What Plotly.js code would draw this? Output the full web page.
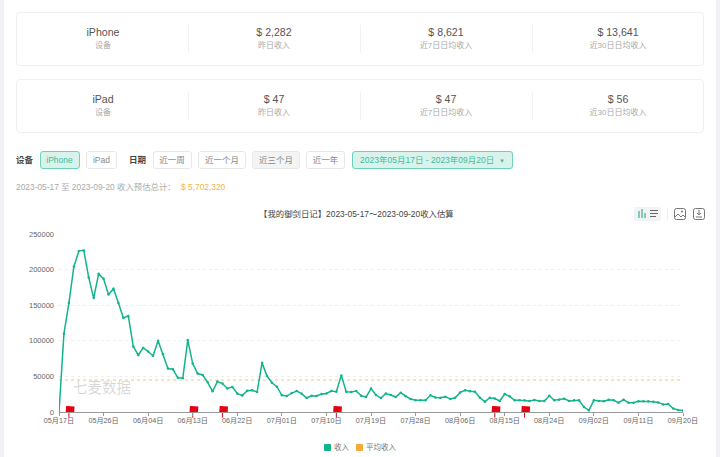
<!DOCTYPE html>
<html><head><meta charset="utf-8">
<script src="https://cdn.plot.ly/plotly-3.0.1.min.js"></script>
<style>
html,body{margin:0;padding:0;width:720px;height:457px;overflow:hidden;background:#fff;font-family:"Liberation Sans","Noto Sans CJK SC",sans-serif;}
.edge{position:absolute;top:0;bottom:0;width:4px;background:#eff1f5;}
.card{position:absolute;left:16px;width:688px;height:54px;border:1px solid #f0f0f0;border-radius:4px;box-sizing:border-box;background:#fff;}
.col{position:absolute;top:0;width:172px;height:100%;text-align:center;}
.col+.col::before{content:"";position:absolute;left:0;top:12px;bottom:12px;border-left:1px solid #f2f2f2;}
.v{position:absolute;left:0;right:0;top:12px;font-size:10.6px;line-height:14px;color:#555;}
.s{position:absolute;left:0;right:0;top:27px;font-size:8px;line-height:12px;color:#aaa;}
.lab{position:absolute;top:153px;font-size:8.5px;line-height:14px;color:#444;font-weight:bold;}
.btn{position:absolute;top:151px;height:18px;box-sizing:border-box;border:1px solid #e8e8e8;border-radius:3px;text-align:center;font-size:8.5px;line-height:16px;color:#888;background:#fff;}
.on{background:#d9f3ec;border-color:#6dd2b8;color:#3dbb9c;}
.grey{background:#f4f4f4;}
.sum{position:absolute;left:16px;top:181px;font-size:8.4px;line-height:13px;color:#aaa;}
.sum b{font-weight:normal;color:#f5b342;margin-left:3px;}
#chart{position:absolute;left:0;top:200px;width:720px;height:257px;}
#tools{position:absolute;left:0;top:0;}
#legend{position:absolute;left:0;top:0;font-size:7.5px;line-height:9px;color:#777;}
#legend span{position:absolute;white-space:nowrap;}
#legend i{position:absolute;width:7px;height:7px;border-radius:1px;top:444px;}
</style></head><body>
<div class="edge" style="left:0"></div><div class="edge" style="right:0"></div>
<div id="cards"></div>
<div class="lab" style="left:16px">设备</div>
<div id="btns"></div>
<div class="lab" style="left:129px">日期</div>
<div class="sum">2023-05-17 至 2023-09-20 收入预估总计： <b>$ 5,702,320</b></div>
<div id="chart"></div>
<div id="legend"></div>
<svg id="tools" width="720" height="230" style="pointer-events:none">
  <rect x="634" y="207" width="27" height="14" rx="2" fill="#f2f3f4"/>
  <g stroke="#2fb594" stroke-width="1.2"><path d="M639 218v-7M642 218v-9M645 218v-5"/></g>
  <g stroke="#666" stroke-width="1"><path d="M650 210.5h8M650 213.5h8M650 216.5h6"/></g>
  <path d="M667.5 208v12" stroke="#ededed"/>
  <rect x="674.5" y="208.5" width="11" height="11" rx="2" fill="none" stroke="#777"/>
  <path d="M675 217l3-3 3 3 2-2 2 2" fill="none" stroke="#777"/><circle cx="682" cy="211.5" r="1" fill="#777"/>
  <rect x="693.5" y="208.5" width="11" height="11" rx="2" fill="none" stroke="#777"/>
  <path d="M699 210v5M697 213l2 2 2-2M696 217h6" fill="none" stroke="#777"/>
</svg>
<script>
var revenue = [0,110000,153000,204000,226000,227000,189000,160000,194000,187000,
165000,173000,153000,132000,135000,92000,80000,90000,85000,79000,
100000,81000,61000,60000,48000,47500,101000,68000,54000,52000,
42000,29000,43000,40000,33000,35000,26000,23000,30000,30400,
28000,69000,50500,41000,35500,23400,22400,26600,29400,25700,
19600,22900,22400,25200,26000,29400,28500,51400,28500,28000,
29400,22900,21000,33000,23800,19600,26000,23800,21000,27000,
22000,18200,16400,16400,16400,23400,20500,20000,21500,18200,
20000,27500,30400,29000,28500,20000,14500,20000,19000,15400,
25200,22000,16400,16400,16400,15400,16800,15400,15400,22900,
16400,17300,18700,15400,16400,16400,7000,2300,16400,15400,
15000,17300,16400,13000,17300,13000,13000,15000,15000,15000,
14500,13500,10700,11200,5000,2800,2282];
var averageRevenue = 44900;
var flagDates = ["2023-05-19","2023-06-13","2023-06-19","2023-07-12","2023-08-13","2023-08-19"];
var tickDates = ["2023-05-17","2023-05-26","2023-06-04","2023-06-13","2023-06-22","2023-07-01","2023-07-10","2023-07-19","2023-07-28","2023-08-06","2023-08-15","2023-08-24","2023-09-02","2023-09-11","2023-09-20"];
var tickLabels = ["05月17日","05月26日","06月04日","06月13日","06月22日","07月01日","07月10日","07月19日","07月28日","08月06日","08月15日","08月24日","09月02日","09月11日","09月20日"];
var yTicks = [0,50000,100000,150000,200000,250000];
var devices = ["iPhone","iPad"];
var cardValues = [["$ 2,282","$ 8,621","$ 13,641"],["$ 47","$ 47","$ 56"]];
var cardLabels = ["昨日收入","近7日日均收入","近30日日均收入"];
var buttons = [["iPhone",39.5,40,"on"],["iPad",86,31,""],["近一周",152.5,39,""],["近一个月",198,48,""],["近三个月",252,48,"grey"],["近一年",306,39,""],["2023年05月17日 - 2023年09月20日 &nbsp;<span style='font-size:6px'>▼</span>",352,161,"on"]];
var legendNames = ["收入","平均收入"];

var html="";
devices.forEach(function(d,i){
  html+='<div class="card" style="top:'+(12+i*66.5)+'px">';
  html+='<div class="col" style="left:0"><div class="v">'+d+'</div><div class="s">设备</div></div>';
  cardValues[i].forEach(function(v,j){
    html+='<div class="col" style="left:'+(172*(j+1)-1)+'px"><div class="v">'+v+'</div><div class="s">'+cardLabels[j]+'</div></div>';
  });
  html+='</div>';
});
document.getElementById("cards").innerHTML=html;
document.getElementById("btns").innerHTML=buttons.map(function(b){
  return '<div class="btn '+b[3]+'" style="left:'+b[1]+'px;width:'+b[2]+'px">'+b[0]+'</div>';}).join("");

var dates = revenue.map(function(_,i){
  return new Date(Date.UTC(2023,4,17+i)).toISOString().slice(0,10);
});
var GREEN="#12b48b", ORANGE="#f5ab35", FLAG="#e60012", FONT='"Liberation Sans","Noto Sans CJK SC",sans-serif';
document.getElementById("legend").innerHTML=
 '<i style="left:324px;background:'+GREEN+'"></i><span style="left:334px;top:443px">'+legendNames[0]+'</span>'+
 '<i style="left:356px;background:'+ORANGE+'"></i><span style="left:366px;top:443px">'+legendNames[1]+'</span>';
var traces=[
 {x:[dates[0],dates[dates.length-1]],y:[averageRevenue,averageRevenue],mode:"lines",line:{color:"#f8c878",width:1,dash:"dot"},showlegend:false,hoverinfo:"skip"},
 {x:dates,y:revenue,mode:"lines+markers",line:{color:GREEN,width:1.5},marker:{color:GREEN,size:2.5},showlegend:false},
 {x:flagDates,y:flagDates.map(function(){return 0;}),mode:"markers",marker:{symbol:"line-ns",size:8,line:{color:FLAG,width:1}},showlegend:false,hoverinfo:"skip",cliponaxis:false},
 {x:flagDates.map(function(d){return d+" 06:00";}),y:flagDates.map(function(){return 3800;}),mode:"markers",marker:{symbol:"line-ew",size:6,angle:4,line:{color:FLAG,width:6}},showlegend:false,hoverinfo:"skip",cliponaxis:false}
];
var layout={
 width:720,height:257,margin:{l:59,r:37,t:34,b:45.3,autoexpand:false},paper_bgcolor:"rgba(0,0,0,0)",plot_bgcolor:"rgba(0,0,0,0)",
 font:{family:FONT,size:7.5,color:"#666"},showlegend:false,
 title:{text:"【我的御剑日记】2023-05-17～2023-09-20收入估算",font:{size:8.4,color:"#444"},x:0.495,xanchor:"center",y:0.947,yanchor:"middle"},
 xaxis:{type:"date",range:[dates[0],dates[dates.length-1]],tickvals:tickDates,ticktext:tickLabels,ticks:"outside",ticklen:3,tickcolor:"#999",showgrid:false,showline:true,linecolor:"#999",zeroline:false,ticklabelstandoff:-2,tickfont:{size:7.2,color:"#666"}},
 yaxis:{range:[0,250000],tickvals:yTicks,ticktext:yTicks.map(String),ticks:"",gridcolor:"#eeeeee",griddash:"dot",gridwidth:1,showline:false,zeroline:false,ticklabelstandoff:4,tickfont:{size:7.5,color:"#666"}},
 annotations:[{text:"七麦数据",xref:"paper",yref:"paper",x:0.02,y:0.133,xanchor:"left",yanchor:"middle",showarrow:false,font:{size:14.5,color:"rgba(0,0,0,0.17)"}}],
 hovermode:false
};
Plotly.newPlot("chart",traces,layout,{displayModeBar:false,staticPlot:true});
</script>
</body></html>
